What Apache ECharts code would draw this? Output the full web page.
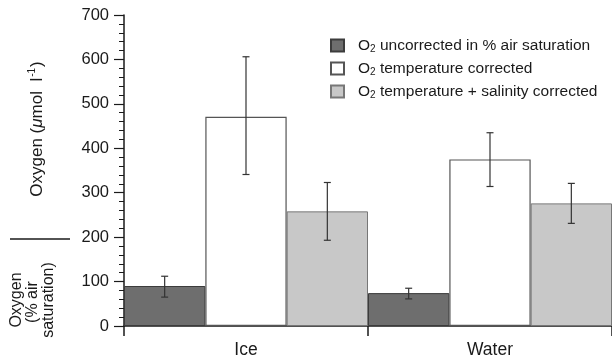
<!DOCTYPE html>
<html>
<head>
<meta charset="utf-8">
<script src="https://cdn.jsdelivr.net/npm/echarts@6/dist/echarts.min.js"></script>
<style>html,body{margin:0;padding:0;background:#fff;}#c{width:612px;height:359px;}</style>
</head>
<body>
<div id="c"></div>
<script>
const categories = ['Ice', 'Water'];
const uncorrected = [90, 74];
const uncorrectedErr = [[65, 112], [61, 85]];
const tempCorrected = [471, 375];
const tempCorrectedErr = [[341, 606], [314, 435]];
const tempSalCorrected = [258, 276];
const tempSalCorrectedErr = [[193, 323], [231, 321]];
const yTicks = [0, 100, 200, 300, 400, 500, 600, 700];
const seriesNames = ['uncorrected in % air saturation', 'temperature corrected', 'temperature + salinity corrected'];

const FONT = 'Liberation Sans, Arial, sans-serif';
const INK = '#1a1a1a';
const chart = echarts.init(document.getElementById('c'));

function errSeries(errs, k) {
  return {
    type: 'custom',
    silent: true,
    z: 10,
    data: errs.map((e, i) => [i, e[0], e[1]]),
    encode: { x: 0, y: [1, 2] },
    renderItem: function (params, api) {
      const xc = api.coord([api.value(0), 0])[0];
      const band = api.size([1, 0])[0];
      const x = xc + (k - 1) * band / 3;
      const yLo = api.coord([api.value(0), api.value(1)])[1];
      const yHi = api.coord([api.value(0), api.value(2)])[1];
      const c = 3.5;
      const st = { stroke: '#333', lineWidth: 1.2 };
      return {
        type: 'group',
        children: [
          { type: 'line', shape: { x1: x, y1: yLo, x2: x, y2: yHi }, style: st },
          { type: 'line', shape: { x1: x - c, y1: yLo, x2: x + c, y2: yLo }, style: st },
          { type: 'line', shape: { x1: x - c, y1: yHi, x2: x + c, y2: yHi }, style: st }
        ]
      };
    }
  };
}

const legendRich = {
  o: { fontSize: 15.5, fontFamily: FONT, color: INK, padding: [0, 0, 0, 9] },
  s: { fontSize: 10, fontFamily: FONT, color: INK, verticalAlign: 'bottom', padding: [9, 0, 0, 0] },
  t: { fontSize: 15.5, fontFamily: FONT, color: INK }
};

chart.setOption({
  animation: false,
  backgroundColor: '#fff',
  grid: { left: 124, top: 15, width: 490, bottom: 32, containLabel: false },
  legend: {
    orient: 'vertical',
    left: 325,
    top: 32,
    itemWidth: 13,
    itemHeight: 12,
    itemGap: 6,
    icon: 'rect',
    data: seriesNames,
    formatter: function (n) { return '{o|O}{s|2}{t| ' + n + '}'; },
    textStyle: { rich: legendRich, fontFamily: FONT, fontSize: 15.5, lineHeight: 17 }
  },
  xAxis: {
    type: 'category',
    data: categories,
    axisLine: { lineStyle: { color: INK, width: 1.5 } },
    axisTick: { show: true, length: 10, inside: false, interval: 0, lineStyle: { color: INK, width: 1.5 } },
    axisLabel: { fontSize: 17.5, fontFamily: FONT, color: INK, margin: 15 }
  },
  yAxis: {
    type: 'value',
    min: 0,
    max: 700,
    interval: 100,
    axisLine: { show: true, lineStyle: { color: INK, width: 1.5 } },
    axisTick: { show: true, length: 10, lineStyle: { color: INK, width: 1.2 } },
    minorTick: { show: true, splitNumber: 5, length: 5, lineStyle: { color: INK, width: 1 } },
    splitLine: { show: false },
    axisLabel: { fontSize: 16.5, fontFamily: FONT, color: INK, margin: 15,
      formatter: function (v) { return yTicks.indexOf(v) >= 0 ? String(v) : ''; } }
  },
  series: [
    { name: seriesNames[0], type: 'bar', data: uncorrected, barGap: 0, barCategoryGap: 0,
      itemStyle: { color: '#6e6e6e', borderColor: '#3c3c3c', borderWidth: 1 } },
    { name: seriesNames[1], type: 'bar', data: tempCorrected, barGap: 0, barCategoryGap: 0,
      itemStyle: { color: '#ffffff', borderColor: '#555', borderWidth: 1.2 } },
    { name: seriesNames[2], type: 'bar', data: tempSalCorrected, barGap: 0, barCategoryGap: 0,
      itemStyle: { color: '#c8c8c8', borderColor: '#777', borderWidth: 1 } },
    errSeries(uncorrectedErr, 0),
    errSeries(tempCorrectedErr, 1),
    errSeries(tempSalCorrectedErr, 2)
  ],
  graphic: [
    { type: 'text', x: 37, y: 129, rotation: Math.PI / 2,
      style: { text: '{a|Oxygen (}{m|μ}{a|mol  l}{sup|-1}{a|)}', textAlign: 'center', textVerticalAlign: 'middle',
        rich: { a: { fontSize: 17, fontFamily: FONT, fill: INK },
                m: { fontSize: 17, fontFamily: FONT, fontStyle: 'italic', fill: INK },
                sup: { fontSize: 10, fontFamily: FONT, fill: INK, verticalAlign: 'top', padding: [0, 1, 9, 1] } } } },
    { type: 'line', shape: { x1: 10, y1: 239, x2: 70, y2: 239 }, style: { stroke: INK, lineWidth: 1.5 } },
    { type: 'text', x: 17, y: 300, rotation: Math.PI / 2,
      style: { text: 'Oxygen', textAlign: 'center', textVerticalAlign: 'middle', fontSize: 16, fontFamily: FONT, fill: INK } },
    { type: 'text', x: 33, y: 302, rotation: Math.PI / 2,
      style: { text: '(% air', textAlign: 'center', textVerticalAlign: 'middle', fontSize: 16, fontFamily: FONT, fill: INK } },
    { type: 'text', x: 49, y: 300, rotation: Math.PI / 2,
      style: { text: 'saturation)', textAlign: 'center', textVerticalAlign: 'middle', fontSize: 16, fontFamily: FONT, fill: INK } }
  ]
});
</script>
</body>
</html>
